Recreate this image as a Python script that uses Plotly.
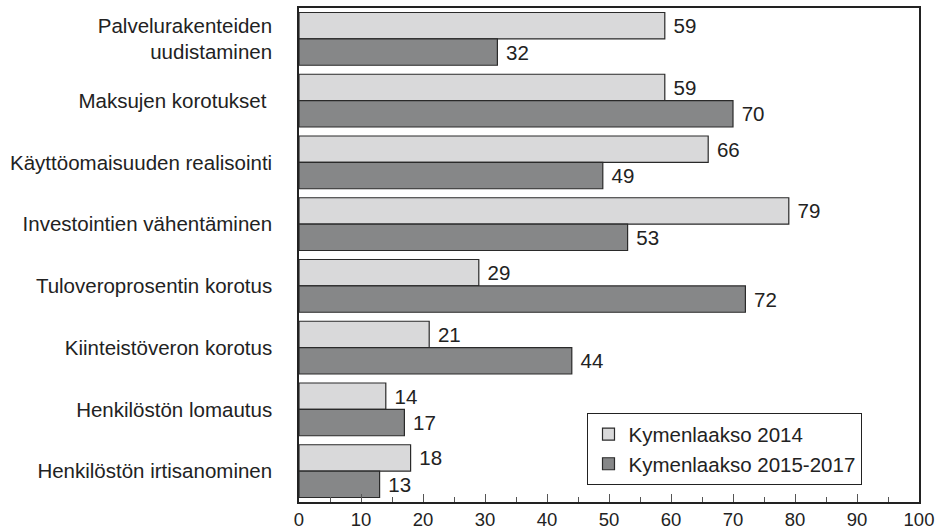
import plotly.graph_objects as go

categories = [
    "Palvelurakenteiden<br>uudistaminen",
    "Maksujen korotukset ",
    "Käyttöomaisuuden realisointi",
    "Investointien vähentäminen",
    "Tuloveroprosentin korotus",
    "Kiinteistöveron korotus",
    "Henkilöstön lomautus",
    "Henkilöstön irtisanominen",
]
series_2014 = [59, 59, 66, 79, 29, 21, 14, 18]
series_2015_2017 = [32, 70, 49, 53, 72, 44, 17, 13]
series_names = ["Kymenlaakso 2014", "Kymenlaakso 2015-2017"]
x_ticks = [0, 10, 20, 30, 40, 50, 60, 70, 80, 90, 100]

FONT = "Liberation Sans, Arial, sans-serif"
TXT = "#222222"
FS = 20.5

fig = go.Figure()
for name, vals, color in [
    (series_names[0], series_2014, "#d9d9da"),
    (series_names[1], series_2015_2017, "#868788"),
]:
    fig.add_trace(go.Bar(
        y=categories, x=vals, name=name, orientation="h",
        marker=dict(color=color, line=dict(color="#2a2a2a", width=1.2)),
        text=vals, texttemplate=" %{x}", textposition="outside",
        textfont=dict(size=FS, color=TXT, family=FONT),
        cliponaxis=False,
    ))

fig.update_layout(
    width=941, height=532,
    margin=dict(l=299, r=22, t=8, b=30, autoexpand=False),
    paper_bgcolor="white", plot_bgcolor="white",
    barmode="group", bargap=0.145, bargroupgap=0,
    font=dict(family=FONT, size=FS, color=TXT),
    showlegend=True,
    legend=dict(
        x=0.465, y=0.18, xanchor="left", yanchor="top",
        bgcolor="white", bordercolor="#222222", borderwidth=1.2,
        font=dict(size=FS, color=TXT, family=FONT),
        tracegroupgap=0,
    ),
)
fig.update_xaxes(
    range=[0, 100], tickvals=x_ticks, ticktext=[str(v) for v in x_ticks],
    ticks="inside", ticklen=8, tickcolor="#555555", tickwidth=1,
    minor=dict(dtick=5, ticks="inside", ticklen=5, tickcolor="#555555"),
    showgrid=False, zeroline=False, automargin=False,
    showline=True, mirror=True, linecolor="#222222", linewidth=1.5,
    tickfont=dict(size=18.5, color=TXT, family=FONT),
)
fig.update_yaxes(
    autorange="reversed", ticks="", showgrid=False, zeroline=False,
    automargin=False,
    showline=True, mirror=True, linecolor="#222222", linewidth=1.5,
    tickfont=dict(size=FS, color=TXT, family=FONT),
    ticklabelstandoff=21,
)
fig.write_html(
    "out.html",
    config={"displayModeBar": False},
    post_script="document.body.style.margin='0';document.body.style.overflow='hidden';",
)
